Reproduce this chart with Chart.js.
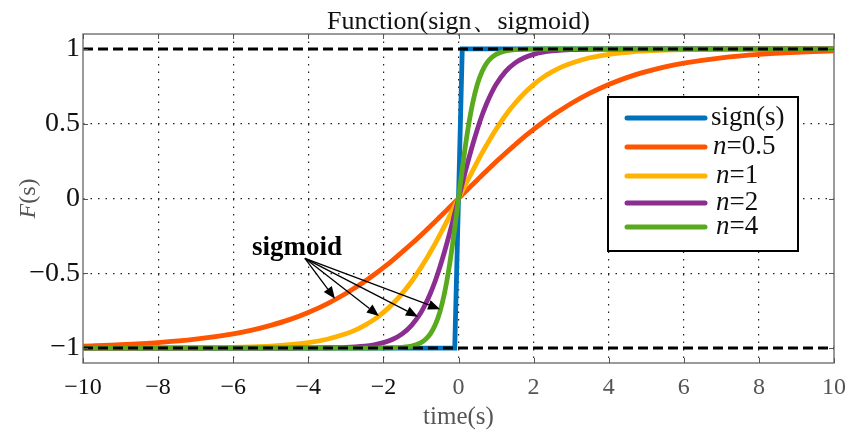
<!DOCTYPE html>
<html>
<head>
<meta charset="utf-8">
<script src="https://cdn.jsdelivr.net/npm/chart.js@4.4.1/dist/chart.umd.min.js"></script>
<style>
  html, body { margin: 0; padding: 0; background: #fff; }
  #wrap { width: 846px; height: 432px; position: relative; }
</style>
</head>
<body>
<div id="wrap"><canvas id="sigChart"></canvas></div>
<script>
// ---- data ----
const titleText = 'Function(sign、sigmoid)';
const xTicks = [-10, -8, -6, -4, -2, 0, 2, 4, 6, 8, 10];
const yTicks = [-1, -0.5, 0, 0.5, 1];
const legendLabels = ['sign(s)', 'n=0.5', 'n=1', 'n=2', 'n=4'];

const signX = [-10, -0.1, 0.1, 10];
const signY = [-1, -1, 1, 1];

const xs = [-10, -9, -8, -7, -6, -5.5, -5, -4.5, -4, -3.5, -3, -2.75, -2.5, -2.25, -2, -1.75, -1.5, -1.25, -1,
  -0.875, -0.75, -0.625, -0.5, -0.375, -0.25, -0.125,
  0,
  0.125, 0.25, 0.375, 0.5, 0.625, 0.75, 0.875,
  1, 1.25, 1.5, 1.75, 2, 2.25, 2.5, 2.75, 3, 3.5, 4, 4.5, 5, 5.5, 6, 7, 8, 9, 10];

const n05 = [-0.987, -0.978, -0.964, -0.941, -0.905, -0.880, -0.848, -0.810, -0.762, -0.704, -0.635, -0.596, -0.555, -0.510, -0.462, -0.412, -0.358, -0.303, -0.245,
  -0.215, -0.185, -0.155, -0.124, -0.094, -0.062, -0.031,
  0,
  0.031, 0.062, 0.094, 0.124, 0.155, 0.185, 0.215,
  0.245, 0.303, 0.358, 0.412, 0.462, 0.510, 0.555, 0.596, 0.635, 0.704, 0.762, 0.810, 0.848, 0.880, 0.905, 0.941, 0.964, 0.978, 0.987];
const n1 = [-1, -1, -0.999, -0.998, -0.995, -0.992, -0.987, -0.978, -0.964, -0.941, -0.905, -0.880, -0.848, -0.810, -0.762, -0.704, -0.635, -0.555, -0.462,
  -0.412, -0.358, -0.303, -0.245, -0.185, -0.124, -0.062,
  0,
  0.062, 0.124, 0.185, 0.245, 0.303, 0.358, 0.412,
  0.462, 0.555, 0.635, 0.704, 0.762, 0.810, 0.848, 0.880, 0.905, 0.941, 0.964, 0.978, 0.987, 0.992, 0.995, 0.998, 0.999, 1, 1];
const n2 = [-1, -1, -1, -1, -1, -1, -1, -1, -0.999, -0.998, -0.995, -0.992, -0.987, -0.978, -0.964, -0.941, -0.905, -0.848, -0.762,
  -0.704, -0.635, -0.555, -0.462, -0.358, -0.245, -0.124,
  0,
  0.124, 0.245, 0.358, 0.462, 0.555, 0.635, 0.704,
  0.762, 0.848, 0.905, 0.941, 0.964, 0.978, 0.987, 0.992, 0.995, 0.998, 0.999, 1, 1, 1, 1, 1, 1, 1, 1];
const n4 = [-1, -1, -1, -1, -1, -1, -1, -1, -1, -1, -1, -1, -1, -1, -0.999, -0.998, -0.995, -0.987, -0.964,
  -0.941, -0.905, -0.848, -0.762, -0.635, -0.462, -0.245,
  0,
  0.245, 0.462, 0.635, 0.762, 0.848, 0.905, 0.941,
  0.964, 0.987, 0.995, 0.998, 0.999, 1, 1, 1, 1, 1, 1, 1, 1, 1, 1, 1, 1, 1, 1];

const refX = [-10, 10];
const upperY = [1, 1];
const lowerY = [-1, -1];

// annotation "sigmoid" and its arrows, in data units
const noteText = 'sigmoid';
const notePos = [-4.3, -0.33];
const arrowFrom = [-4.09, -0.40];
const arrowTips = [[-3.29, -0.67], [-2.12, -0.785], [-1.08, -0.79], [-0.49, -0.74]];

const colors = ['#0072BD', '#FF5500', '#FFB200', '#8C2D91', '#5AAA1E'];
const serif = '"Liberation Serif", "Times New Roman", serif';

const pts = (xv, yv) => xv.map((x, i) => ({ x: x, y: yv[i] }));

function curve(label, ys, color, order) {
    return {
        label: label,
        data: pts(xs, ys),
        borderColor: color,
        borderWidth: 4.8,
        pointRadius: 0,
        cubicInterpolationMode: 'monotone',
        borderCapStyle: 'round',
        borderJoinStyle: 'round',
        fill: false,
        order: order
    };
}

function refLine(ys) {
    return {
        label: '',
        data: pts(refX, ys),
        borderColor: '#000',
        borderWidth: 3,
        borderDash: [10, 5],
        pointRadius: 0,
        fill: false,
        order: 0
    };
}

/* ---------------- overlay: frame, ticks, titles, note, legend ---------------- */
const overlay = {
    id: 'overlay',
    afterDraw(chart) {
        const { ctx, chartArea: a, scales: { x, y } } = chart;
        ctx.save();

        const seg = (x1, y1, x2, y2) => { ctx.beginPath(); ctx.moveTo(x1, y1); ctx.lineTo(x2, y2); ctx.stroke(); };

        // frame
        ctx.strokeStyle = '#7a7a7a';
        ctx.lineWidth = 1.5;
        ctx.strokeRect(a.left, a.top, a.right - a.left, a.bottom - a.top);

        // inner tick marks
        ctx.lineWidth = 1;
        ctx.strokeStyle = '#555';
        xTicks.forEach(v => {
            const px = Math.round(x.getPixelForValue(v)) + 0.5;
            seg(px, a.bottom, px, a.bottom - 5);
            seg(px, a.top, px, a.top + 5);
        });
        yTicks.forEach(v => {
            const py = Math.round(y.getPixelForValue(v)) + 0.5;
            seg(a.left, py, a.left + 5, py);
            seg(a.right, py, a.right - 5, py);
        });

        // title
        ctx.fillStyle = '#111';
        ctx.textAlign = 'center';
        ctx.textBaseline = 'alphabetic';
        ctx.font = '26px ' + serif;
        ctx.fillText(titleText, (a.left + a.right) / 2, 29);

        // x axis title
        ctx.fillStyle = '#555';
        ctx.font = '25px ' + serif;
        ctx.fillText('time(s)', (a.left + a.right) / 2, 424);

        // y axis title, italic F
        ctx.save();
        ctx.translate(35, (a.top + a.bottom) / 2);
        ctx.rotate(-Math.PI / 2);
        ctx.font = 'italic 24px ' + serif;
        const wF = ctx.measureText('F').width;
        ctx.font = '24px ' + serif;
        const wS = ctx.measureText('(s)').width;
        ctx.textAlign = 'left';
        ctx.font = 'italic 24px ' + serif;
        ctx.fillText('F', -(wF + wS) / 2, 0);
        ctx.font = '24px ' + serif;
        ctx.fillText('(s)', -(wF + wS) / 2 + wF, 0);
        ctx.restore();

        // sigmoid note with arrows
        ctx.fillStyle = '#000';
        ctx.strokeStyle = '#000';
        ctx.font = 'bold 27px ' + serif;
        ctx.textAlign = 'center';
        ctx.textBaseline = 'middle';
        ctx.fillText(noteText, x.getPixelForValue(notePos[0]), y.getPixelForValue(notePos[1]));
        const ox = x.getPixelForValue(arrowFrom[0]);
        const oy = y.getPixelForValue(arrowFrom[1]);
        ctx.lineWidth = 1.3;
        arrowTips.forEach(t => {
            const tx = x.getPixelForValue(t[0]);
            const ty = y.getPixelForValue(t[1]);
            const ang = Math.atan2(ty - oy, tx - ox);
            const len = 12, half = 5;
            const bx = tx - len * Math.cos(ang), by = ty - len * Math.sin(ang);
            seg(ox, oy, bx, by);
            ctx.beginPath();
            ctx.moveTo(tx, ty);
            ctx.lineTo(bx + half * Math.sin(ang), by - half * Math.cos(ang));
            ctx.lineTo(bx - half * Math.sin(ang), by + half * Math.cos(ang));
            ctx.closePath();
            ctx.fill();
        });

        // legend
        const lx = a.right - 226, ly = 97, lw = 190, lh = 154;
        ctx.fillStyle = '#fff';
        ctx.fillRect(lx, ly, lw, lh);
        ctx.strokeStyle = '#000';
        ctx.lineWidth = 2;
        ctx.strokeRect(lx, ly, lw, lh);
        const rowY = [118, 147, 176, 203, 227];
        chart.data.datasets.slice(0, 5).forEach((ds, i) => {
            const ry = rowY[i];
            ctx.strokeStyle = ds.borderColor;
            ctx.lineWidth = 5;
            ctx.lineCap = 'round';
            seg(lx + 19, ry, lx + 97, ry);
            ctx.fillStyle = '#111';
            ctx.textAlign = 'left';
            ctx.textBaseline = 'middle';
            const lab = legendLabels[i];
            let tx = lx + (i === 0 ? 103 : (i === 1 ? 105 : 108));
            if (lab.startsWith('n=')) {
                ctx.font = 'italic 27px ' + serif;
                ctx.fillText('n', tx, ry);
                tx += ctx.measureText('n').width;
                ctx.font = '27px ' + serif;
                ctx.fillText(lab.slice(1), tx, ry);
            } else {
                ctx.font = '27px ' + serif;
                ctx.fillText(lab, tx, ry);
            }
        });

        ctx.restore();
    }
};

document.addEventListener('DOMContentLoaded', function() {
    const canvas = document.getElementById('sigChart');

    new Chart(canvas, {
        type: 'line',
        data: {
            datasets: [
                { label: legendLabels[0], data: pts(signX, signY), borderColor: colors[0], borderWidth: 4.8,
                  pointRadius: 0, tension: 0, fill: false, borderJoinStyle: 'miter', order: 5 },
                curve(legendLabels[1], n05, colors[1], 4),
                curve(legendLabels[2], n1, colors[2], 3),
                curve(legendLabels[3], n2, colors[3], 2),
                curve(legendLabels[4], n4, colors[4], 1),
                refLine(upperY),
                refLine(lowerY)
            ]
        },
        options: {
            animation: false,
            responsive: true,
            maintainAspectRatio: false,
            layout: { padding: { top: 34, right: 12, left: 0, bottom: 0 } },
            plugins: {
                legend: { display: false },
                tooltip: { enabled: false },
                title: { display: false }
            },
            scales: {
                x: {
                    type: 'linear',
                    min: -10,
                    max: 10,
                    afterBuildTicks: s => { s.ticks = xTicks.map(v => ({ value: v })); },
                    afterFit: s => { s.height = 69; s.paddingRight = 0; s.paddingLeft = 0; },
                    ticks: {
                        font: { family: serif, size: 24 },
                        color: c => (c.tick && c.tick.value >= 0) ? '#555' : '#111',
                        padding: 10,
                        maxRotation: 0,
                        callback: v => v < 0 ? '\u2212' + Math.abs(v) : String(v)
                    },
                    grid: {
                        color: c => (c.tick && Math.abs(c.tick.value) === 10) ? 'rgba(0,0,0,0)' : '#222',
                        lineWidth: 1.2,
                        drawTicks: false
                    },
                    border: { display: false, dash: [1.5, 6] }
                },
                y: {
                    type: 'linear',
                    min: -1.1,
                    max: 1.1,
                    afterBuildTicks: s => { s.ticks = yTicks.map(v => ({ value: v })); },
                    afterFit: s => { s.width = 83; s.paddingTop = 0; s.paddingBottom = 0; },
                    ticks: {
                        font: { family: serif, size: 28 },
                        color: '#111',
                        padding: 3,
                        callback: v => v < 0 ? '\u2212' + Math.abs(v) : String(v)
                    },
                    grid: {
                        color: '#222',
                        lineWidth: 1.2,
                        drawTicks: false
                    },
                    border: { display: false, dash: [1.5, 6] }
                }
            }
        },
        plugins: [overlay]
    });
});
</script>
</body>
</html>
